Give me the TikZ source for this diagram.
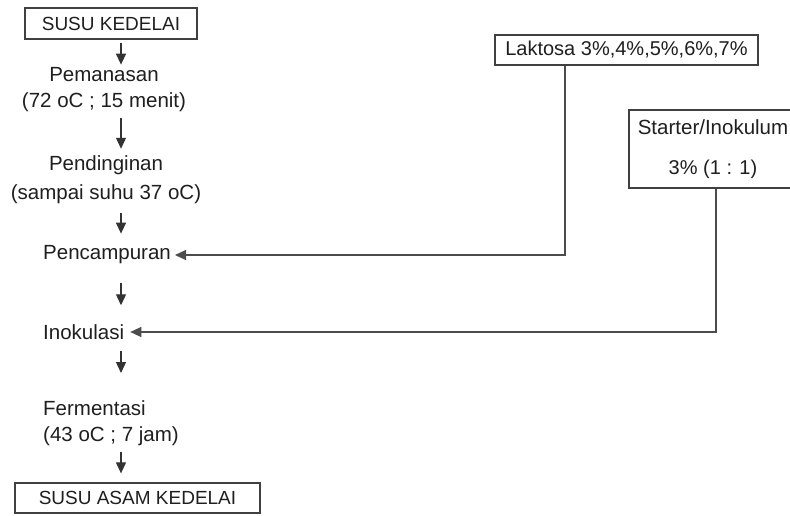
\documentclass[tikz,border=0pt]{standalone}
\usepackage{fontspec}
\setmainfont{Liberation Sans}
\usetikzlibrary{arrows.meta}
\begin{document}
\begin{tikzpicture}[x=1pt,y=-1pt,
  lbl/.style={inner sep=0pt, font=\fontsize{20.5}{26}\selectfont, text=black!88},
  boxed/.style={draw=black!75, line width=1.3pt, inner sep=0pt, font=\fontsize{19}{26}\selectfont, text=black!88},
  arr/.style={draw=black!80, line width=1.2pt, -{Triangle[length=11pt,width=10pt]}},
  feed/.style={draw=black!70, line width=1.2pt, -{Triangle[length=11pt,width=10pt]}}]
\useasboundingbox (0,0) rectangle (790,515);
\fill[white] (0,0) rectangle (790,515);
\coordinate (col) at (121,0);
% main column
\node[boxed, minimum width=172pt, minimum height=31pt] (susu) at (111,23.5) {SUSU KEDELAI};
\node[lbl, align=center] (pem) at (104,90) {Pemanasan\\(72 oC ; 15 menit)};
\node[lbl, align=center] (pend) at (106,180) {Pendinginan\\[3pt](sampai suhu 37 oC)};
\node[lbl, anchor=west] (pcm) at (43,255) {Pencampuran};
\node[lbl, anchor=west] (ino) at (43,332) {Inokulasi};
\node[lbl, anchor=north west, align=left] (fer) at (43,400) {Fermentasi\\(43 oC ; 7 jam)};
\node[boxed, minimum width=245pt, minimum height=30pt] (asam) at (137.5,498) {SUSU ASAM KEDELAI};
% side inputs
\node[boxed, minimum width=263pt, minimum height=30pt, font=\fontsize{20}{26}\selectfont] (lak) at (626.5,50) {Laktosa 3\%,4\%,5\%,6\%,7\%};
\node[boxed, minimum width=168pt, minimum height=78pt, align=center, font=\fontsize{20.5}{40}\selectfont] (start) at (713,149) {Starter/Inokulum\\\fontsize{20}{40}\selectfont 3\% (1 : 1)};
% down arrows
\draw[arr, shorten <=3pt, shorten >=3pt] (susu.south -| col) -- (pem.north -| col);
\draw[arr, shorten <=6pt, shorten >=7pt] (pem.south -| col) -- (pend.north -| col);
\draw[arr, shorten <=9pt, shorten >=12pt] (pend.south -| col) -- (pcm.north -| col);
\draw[arr, shorten <=19pt, shorten >=19pt] (pcm.south -| col) -- (ino.north -| col);
\draw[arr, shorten <=11pt, shorten >=27pt] (ino.south -| col) -- (fer.north -| col);
\draw[arr, shorten <=6pt, shorten >=9pt] (fer.south -| col) -- (asam.north -| col);
% feed lines
\draw[feed, shorten >=4pt] ([xshift=-61.5pt]lak.south) |- (pcm.east);
\draw[feed, shorten >=6pt] ([xshift=3pt]start.south) |- (ino.east);
\end{tikzpicture}
\end{document}
